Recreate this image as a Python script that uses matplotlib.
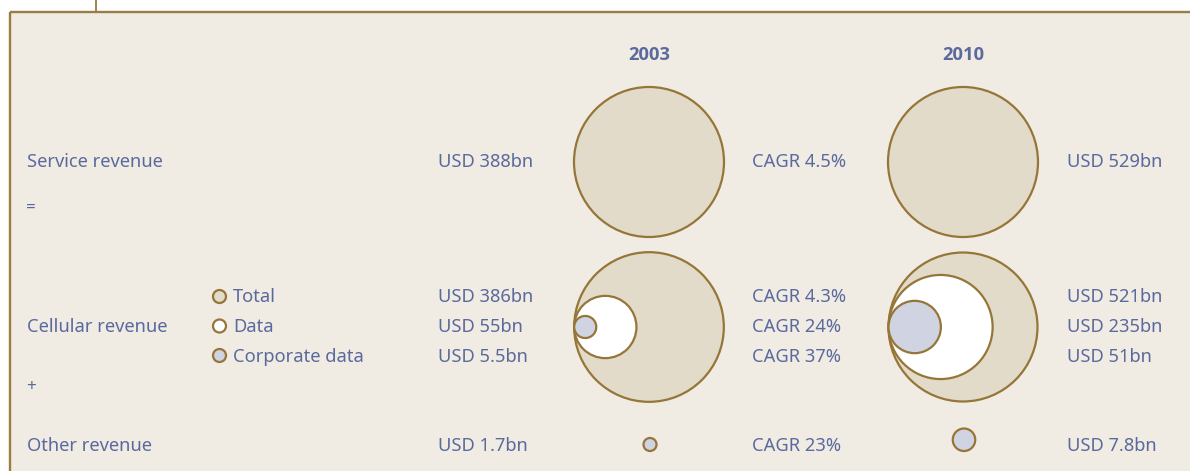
import matplotlib.pyplot as plt
from matplotlib.patches import Circle, Rectangle

# Данные (значения с картинки)
years = ['2003', '2010']
row_labels = ['Service revenue', 'Cellular revenue', 'Other revenue']
legend_labels = ['Total', 'Data', 'Corporate data']

service_rev = [388, 529]               # USD bn, 2003 / 2010
cellular_2003 = [386, 55, 5.5]         # total, data, corporate data
cellular_2010 = [521, 235, 51]
other_rev = [1.7, 7.8]

cagr_service = 4.5
cagr_cellular = [4.3, 24, 37]
cagr_other = 23

# Стиль
plt.rcParams['font.family'] = ['Noto Sans', 'DejaVu Sans']
TXT = '#5b6a9d'
EDGE = '#967638'
BORDER = '#9b7c42'
BG = '#f0ebe3'
FILLS = ['#e2dbc9', '#ffffff', '#d0d3e2']
FS = 13.2
LW = 1.6

R_MAX = 75          # радиус самого большого круга (px)
EXP = 0.45          # масштаб радиуса от значения


def radius(v, vmax):
    return R_MAX * (v / vmax) ** EXP


def usd(v):
    return 'USD {:g}bn'.format(v)


fig = plt.figure(figsize=(11.9, 4.71), dpi=100, facecolor='white')
ax = fig.add_axes([0, 0, 1, 1])
ax.set_xlim(0, 1190)
ax.set_ylim(471, 0)
ax.axis('off')

# Рамка
ax.add_patch(Rectangle((10, 12), 1200, 480, facecolor=BG, edgecolor='none', zorder=0))
ax.plot([10, 10], [12, 480], color=BORDER, lw=1.7, solid_capstyle='butt', zorder=1)
ax.plot([10, 1200], [12, 12], color=BORDER, lw=1.7, solid_capstyle='butt', zorder=1)
ax.plot([96, 96], [0, 12], color=BORDER, lw=1.3, zorder=1)

col_x = [649, 963]
y_service, y_cell, y_other_bottom = 162, 327, 451
cellular = [cellular_2003, cellular_2010]

for j, yr in enumerate(years):
    cx = col_x[j]
    vmax = service_rev[j]
    ax.text(cx, 60.5, yr, ha='center', va='baseline', fontsize=FS, fontweight='bold',
            color=TXT, family=['Open Sans', 'DejaVu Sans'])

    # Service revenue
    r = radius(service_rev[j], vmax)
    ax.add_patch(Circle((cx, y_service), r, facecolor=FILLS[0], edgecolor=EDGE, lw=LW, zorder=2))

    # Cellular revenue: вложенные круги, касающиеся слева
    r_tot = radius(cellular[j][0], vmax)
    left = cx - r_tot
    for k, v in enumerate(cellular[j]):
        rk = radius(v, vmax)
        ax.add_patch(Circle((left + rk, y_cell), rk, facecolor=FILLS[k], edgecolor=EDGE,
                            lw=LW, zorder=3 + k))

    # Other revenue
    ro = radius(other_rev[j], vmax)
    ax.add_patch(Circle((cx + 1, y_other_bottom - ro), ro, facecolor=FILLS[2], edgecolor=EDGE,
                        lw=LW, zorder=3))

# Подписи строк
base_service, base_cell, base_other = 167, [302.5, 332, 361.5], 451
ax.text(27, base_service, row_labels[0], fontsize=FS, color=TXT, va='baseline')
ax.text(27, base_cell[1], row_labels[1], fontsize=FS, color=TXT, va='baseline')
ax.text(27, base_other, row_labels[2], fontsize=FS, color=TXT, va='baseline')
ax.text(26, 212, '=', fontsize=FS - 1, color=TXT, va='baseline')
ax.text(26, 391, '+', fontsize=FS - 1, color=TXT, va='baseline')

# Легенда
for k, lab in enumerate(legend_labels):
    ax.add_patch(Circle((219.5, base_cell[k] - 6), 6.5, facecolor=FILLS[k], edgecolor=EDGE, lw=LW))
    ax.text(233, base_cell[k], lab, fontsize=FS, color=TXT, va='baseline')

# Значения 2003, CAGR, значения 2010
x_2003, x_cagr, x_2010 = 438, 752, 1067
ax.text(x_2003, base_service, usd(service_rev[0]), fontsize=FS, color=TXT, va='baseline')
ax.text(x_cagr, base_service, 'CAGR {:g}%'.format(cagr_service), fontsize=FS, color=TXT, va='baseline')
ax.text(x_2010, base_service, usd(service_rev[1]), fontsize=FS, color=TXT, va='baseline')
for k in range(3):
    ax.text(x_2003, base_cell[k], usd(cellular_2003[k]), fontsize=FS, color=TXT, va='baseline')
    ax.text(x_cagr, base_cell[k], 'CAGR {:g}%'.format(cagr_cellular[k]), fontsize=FS, color=TXT, va='baseline')
    ax.text(x_2010, base_cell[k], usd(cellular_2010[k]), fontsize=FS, color=TXT, va='baseline')
ax.text(x_2003, base_other, usd(other_rev[0]), fontsize=FS, color=TXT, va='baseline')
ax.text(x_cagr, base_other, 'CAGR {:g}%'.format(cagr_other), fontsize=FS, color=TXT, va='baseline')
ax.text(x_2010, base_other, usd(other_rev[1]), fontsize=FS, color=TXT, va='baseline')

fig.savefig('out.png', dpi=100, facecolor='white')
